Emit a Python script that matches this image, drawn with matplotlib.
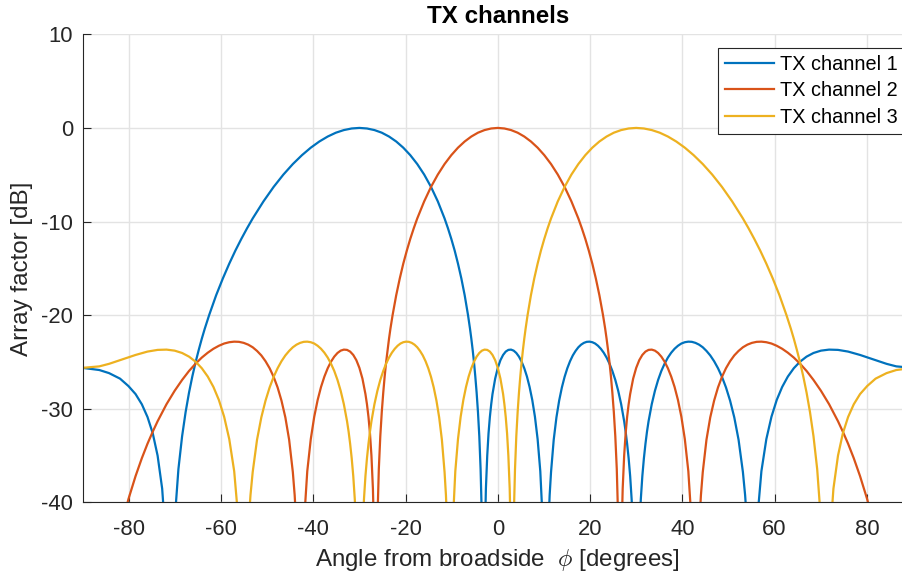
import matplotlib
matplotlib.use("Agg")
import matplotlib.pyplot as plt

# ---------------- data (angle [deg], array factor [dB]) ----------------
# values below -40 dB are outside the visible range (nulls), they are clipped by the axes
tx1_points = [
    (-90.00, -25.63), (-86.38, -25.86), (-84.27, -26.19), (-81.89, -26.78), (-80.07, -27.57),
    (-78.52, -28.43), (-77.16, -29.52), (-75.93, -30.88), (-74.79, -32.63), (-73.74, -35.01),
    (-72.75, -38.54), (-71.81, -45.20), (-70.98, -60.0), (-70.05, -42.00), (-69.23, -36.44),
    (-68.43, -32.93), (-67.67, -30.35), (-66.93, -28.27), (-66.21, -26.53), (-65.51, -25.03),
    (-64.82, -23.70), (-64.16, -22.51), (-63.51, -21.43), (-62.56, -19.98), (-61.05, -17.87),
    (-59.60, -16.08), (-58.21, -14.50), (-56.88, -13.10), (-55.59, -11.85), (-54.34, -10.71),
    (-53.13, -9.67), (-50.80, -7.85), (-48.59, -6.30), (-46.47, -4.98), (-44.43, -3.86),
    (-42.45, -2.91), (-40.54, -2.11), (-38.68, -1.45), (-36.87, -0.92), (-35.10, -0.51),
    (-33.37, -0.23), (-31.67, -0.06), (-30.00, 0.00),
    (-28.36, -0.06), (-26.74, -0.23), (-25.15, -0.51), (-23.58, -0.92), (-22.02, -1.45),
    (-20.49, -2.11), (-18.97, -2.91), (-17.46, -3.86), (-15.96, -4.98), (-14.48, -6.30),
    (-13.00, -7.85), (-11.54, -9.67), (-10.81, -10.71), (-10.08, -11.85), (-9.35, -13.10),
    (-8.63, -14.50), (-7.90, -16.08), (-7.18, -17.87), (-6.46, -19.98), (-6.03, -21.43),
    (-5.74, -22.51), (-5.45, -23.70), (-5.16, -25.03), (-4.88, -26.53), (-4.59, -28.27),
    (-4.30, -30.35), (-4.01, -32.93), (-3.73, -36.44), (-3.44, -42.00), (-3.12, -60.0),
    (-2.87, -45.20), (-2.58, -38.54), (-2.29, -35.01), (-2.01, -32.63), (-1.72, -30.88),
    (-1.43, -29.52), (-1.15, -28.43), (-0.57, -26.78), (0.00, -25.63), (0.57, -24.81),
    (1.15, -24.25), (1.72, -23.89), (2.29, -23.71), (2.87, -23.68), (3.44, -23.79),
    (4.01, -24.04), (4.59, -24.43), (5.16, -24.97), (5.74, -25.67), (6.32, -26.56),
    (6.89, -27.67), (7.47, -29.06), (8.05, -30.85), (8.63, -33.24), (9.21, -36.67),
    (9.79, -42.63), (10.08, -48.59), (10.41, -60.0), (10.66, -48.91), (10.95, -42.75),
    (11.24, -39.23), (11.54, -36.76), (12.12, -33.31), (12.71, -30.92), (13.30, -29.13),
    (13.89, -27.72), (14.48, -26.59), (15.07, -25.67), (15.66, -24.92), (16.26, -24.30),
    (16.86, -23.82), (17.46, -23.43), (18.06, -23.15), (18.66, -22.96), (19.27, -22.85),
    (19.88, -22.83), (20.49, -22.89), (21.10, -23.03), (21.72, -23.27), (22.33, -23.59),
    (22.96, -24.01), (23.58, -24.53), (24.21, -25.18), (24.83, -25.96), (25.47, -26.92),
    (26.10, -28.08), (26.74, -29.51), (27.39, -31.33), (27.71, -32.44), (28.03, -33.73),
    (28.36, -35.28), (28.69, -37.19), (29.01, -39.66), (29.34, -43.17), (30.00, -60.0),
    (30.66, -43.17), (31.00, -39.66), (31.33, -37.19), (31.67, -35.28), (32.01, -33.73),
    (32.34, -32.44), (32.68, -31.33), (33.37, -29.51), (34.06, -28.08), (34.75, -26.92),
    (35.45, -25.96), (36.16, -25.18), (36.87, -24.53), (37.59, -24.01), (38.32, -23.59),
    (39.05, -23.27), (39.79, -23.03), (40.54, -22.89), (41.30, -22.83), (42.07, -22.85),
    (42.84, -22.96), (43.63, -23.15), (44.43, -23.43), (45.23, -23.82), (46.05, -24.30),
    (46.89, -24.92), (47.73, -25.67), (48.59, -26.59), (49.46, -27.72), (50.35, -29.13),
    (51.26, -30.92), (52.19, -33.31), (53.13, -36.76), (53.61, -39.23), (54.10, -42.75),
    (54.59, -48.91), (55.01, -60.0), (55.59, -48.59), (56.10, -42.63), (57.14, -36.67),
    (58.21, -33.24), (59.32, -30.85), (60.46, -29.06), (61.64, -27.67), (62.87, -26.56),
    (64.16, -25.67), (65.51, -24.97), (66.93, -24.43), (68.43, -24.04), (70.05, -23.79),
    (71.81, -23.68), (73.74, -23.71), (75.93, -23.89), (78.52, -24.25), (81.89, -24.81),
    (84.27, -25.20), (86.38, -25.47), (90.00, -25.63),
]

tx2_points = [
    (-90.00, -60.0), (-81.89, -43.17), (-80.07, -39.66), (-78.52, -37.19), (-77.16, -35.28),
    (-75.93, -33.73), (-74.79, -32.44), (-73.74, -31.33), (-71.81, -29.51), (-70.05, -28.08),
    (-68.43, -26.92), (-66.93, -25.96), (-65.51, -25.18), (-64.16, -24.53), (-62.87, -24.01),
    (-61.64, -23.59), (-60.46, -23.27), (-59.32, -23.03), (-58.21, -22.89), (-57.14, -22.83),
    (-56.10, -22.85), (-55.08, -22.96), (-54.10, -23.15), (-53.13, -23.43), (-52.19, -23.82),
    (-51.26, -24.30), (-50.35, -24.92), (-49.46, -25.67), (-48.59, -26.59), (-47.73, -27.72),
    (-46.89, -29.13), (-46.05, -30.92), (-45.23, -33.31), (-44.43, -36.76), (-44.03, -39.23),
    (-43.63, -42.75), (-43.23, -48.91), (-42.90, -60.0), (-42.45, -48.59), (-42.07, -42.63),
    (-41.30, -36.67), (-40.54, -33.24), (-39.79, -30.85), (-39.05, -29.06), (-38.32, -27.67),
    (-37.59, -26.56), (-36.87, -25.67), (-36.16, -24.97), (-35.45, -24.43), (-34.75, -24.04),
    (-34.06, -23.79), (-33.37, -23.68), (-32.68, -23.71), (-32.01, -23.89), (-31.33, -24.25),
    (-30.66, -24.81), (-30.00, -25.63), (-29.34, -26.78), (-28.69, -28.43), (-28.36, -29.52),
    (-28.03, -30.88), (-27.71, -32.63), (-27.39, -35.01), (-27.07, -38.54), (-26.74, -45.20),
    (-26.46, -60.0), (-26.10, -42.00), (-25.79, -36.44), (-25.47, -32.93), (-25.15, -30.35),
    (-24.83, -28.27), (-24.52, -26.53), (-24.21, -25.03), (-23.89, -23.70), (-23.58, -22.51),
    (-23.27, -21.43), (-22.80, -19.98), (-22.02, -17.87), (-21.25, -16.08), (-20.49, -14.50),
    (-19.72, -13.10), (-18.97, -11.85), (-18.21, -10.71), (-17.46, -9.67), (-15.96, -7.85),
    (-14.48, -6.30), (-13.00, -4.98), (-11.54, -3.86), (-10.08, -2.91), (-8.63, -2.11),
    (-7.18, -1.45), (-5.74, -0.92), (-4.30, -0.51), (-2.87, -0.23), (-1.43, -0.06),
    (0.00, 0.00),
    (1.43, -0.06), (2.87, -0.23), (4.30, -0.51), (5.74, -0.92), (7.18, -1.45),
    (8.63, -2.11), (10.08, -2.91), (11.54, -3.86), (13.00, -4.98), (14.48, -6.30),
    (15.96, -7.85), (17.46, -9.67), (18.21, -10.71), (18.97, -11.85), (19.72, -13.10),
    (20.49, -14.50), (21.25, -16.08), (22.02, -17.87), (22.80, -19.98), (23.27, -21.43),
    (23.58, -22.51), (23.89, -23.70), (24.21, -25.03), (24.52, -26.53), (24.83, -28.27),
    (25.15, -30.35), (25.47, -32.93), (25.79, -36.44), (26.10, -42.00), (26.46, -60.0),
    (26.74, -45.20), (27.07, -38.54), (27.39, -35.01), (27.71, -32.63), (28.03, -30.88),
    (28.36, -29.52), (28.69, -28.43), (29.34, -26.78), (30.00, -25.63), (30.66, -24.81),
    (31.33, -24.25), (32.01, -23.89), (32.68, -23.71), (33.37, -23.68), (34.06, -23.79),
    (34.75, -24.04), (35.45, -24.43), (36.16, -24.97), (36.87, -25.67), (37.59, -26.56),
    (38.32, -27.67), (39.05, -29.06), (39.79, -30.85), (40.54, -33.24), (41.30, -36.67),
    (42.07, -42.63), (42.45, -48.59), (42.90, -60.0), (43.23, -48.91), (43.63, -42.75),
    (44.03, -39.23), (44.43, -36.76), (45.23, -33.31), (46.05, -30.92), (46.89, -29.13),
    (47.73, -27.72), (48.59, -26.59), (49.46, -25.67), (50.35, -24.92), (51.26, -24.30),
    (52.19, -23.82), (53.13, -23.43), (54.10, -23.15), (55.08, -22.96), (56.10, -22.85),
    (57.14, -22.83), (58.21, -22.89), (59.32, -23.03), (60.46, -23.27), (61.64, -23.59),
    (62.87, -24.01), (64.16, -24.53), (65.51, -25.18), (66.93, -25.96), (68.43, -26.92),
    (70.05, -28.08), (71.81, -29.51), (73.74, -31.33), (74.79, -32.44), (75.93, -33.73),
    (77.16, -35.28), (78.52, -37.19), (80.07, -39.66), (81.89, -43.17), (90.00, -60.0),
]

tx3_points = [
    (-90.00, -25.63), (-86.38, -25.47), (-84.27, -25.20), (-81.89, -24.81), (-78.52, -24.25),
    (-75.93, -23.89), (-73.74, -23.71), (-71.81, -23.68), (-70.05, -23.79), (-68.43, -24.04),
    (-66.93, -24.43), (-65.51, -24.97), (-64.16, -25.67), (-62.87, -26.56), (-61.64, -27.67),
    (-60.46, -29.06), (-59.32, -30.85), (-58.21, -33.24), (-57.14, -36.67), (-56.10, -42.63),
    (-55.59, -48.59), (-55.01, -60.0), (-54.59, -48.91), (-54.10, -42.75), (-53.61, -39.23),
    (-53.13, -36.76), (-52.19, -33.31), (-51.26, -30.92), (-50.35, -29.13), (-49.46, -27.72),
    (-48.59, -26.59), (-47.73, -25.67), (-46.89, -24.92), (-46.05, -24.30), (-45.23, -23.82),
    (-44.43, -23.43), (-43.63, -23.15), (-42.84, -22.96), (-42.07, -22.85), (-41.30, -22.83),
    (-40.54, -22.89), (-39.79, -23.03), (-39.05, -23.27), (-38.32, -23.59), (-37.59, -24.01),
    (-36.87, -24.53), (-36.16, -25.18), (-35.45, -25.96), (-34.75, -26.92), (-34.06, -28.08),
    (-33.37, -29.51), (-32.68, -31.33), (-32.34, -32.44), (-32.01, -33.73), (-31.67, -35.28),
    (-31.33, -37.19), (-31.00, -39.66), (-30.66, -43.17),
    (-30.00, -60.0), (-29.34, -43.17), (-29.01, -39.66), (-28.69, -37.19), (-28.36, -35.28),
    (-28.03, -33.73), (-27.71, -32.44), (-27.39, -31.33), (-26.74, -29.51), (-26.10, -28.08),
    (-25.47, -26.92), (-24.83, -25.96), (-24.21, -25.18), (-23.58, -24.53), (-22.96, -24.01),
    (-22.33, -23.59), (-21.72, -23.27), (-21.10, -23.03), (-20.49, -22.89), (-19.88, -22.83),
    (-19.27, -22.85), (-18.66, -22.96), (-18.06, -23.15), (-17.46, -23.43), (-16.86, -23.82),
    (-16.26, -24.30), (-15.66, -24.92), (-15.07, -25.67), (-14.48, -26.59), (-13.89, -27.72),
    (-13.30, -29.13), (-12.71, -30.92), (-12.12, -33.31), (-11.54, -36.76), (-11.24, -39.23),
    (-10.95, -42.75), (-10.66, -48.91), (-10.41, -60.0), (-10.08, -48.59), (-9.79, -42.63),
    (-9.21, -36.67), (-8.63, -33.24), (-8.05, -30.85), (-7.47, -29.06), (-6.89, -27.67),
    (-6.32, -26.56), (-5.74, -25.67), (-5.16, -24.97), (-4.59, -24.43), (-4.01, -24.04),
    (-3.44, -23.79), (-2.87, -23.68), (-2.29, -23.71), (-1.72, -23.89), (-1.15, -24.25),
    (-0.57, -24.81), (0.00, -25.63), (0.57, -26.78), (1.15, -28.43), (1.43, -29.52),
    (1.72, -30.88), (2.01, -32.63), (2.29, -35.01), (2.58, -38.54), (2.87, -45.20),
    (3.12, -60.0), (3.44, -42.00), (3.73, -36.44), (4.01, -32.93), (4.30, -30.35),
    (4.59, -28.27), (4.88, -26.53), (5.16, -25.03), (5.45, -23.70), (5.74, -22.51),
    (6.03, -21.43), (6.46, -19.98), (7.18, -17.87), (7.90, -16.08), (8.63, -14.50),
    (9.35, -13.10), (10.08, -11.85), (10.81, -10.71), (11.54, -9.67), (13.00, -7.85),
    (14.48, -6.30), (15.96, -4.98), (17.46, -3.86), (18.97, -2.91), (20.49, -2.11),
    (22.02, -1.45), (23.58, -0.92), (25.15, -0.51), (26.74, -0.23), (28.36, -0.06),
    (30.00, 0.00), (31.67, -0.06), (33.37, -0.23), (35.10, -0.51), (36.87, -0.92),
    (38.68, -1.45), (40.54, -2.11), (42.45, -2.91), (44.43, -3.86), (46.47, -4.98),
    (48.59, -6.30), (50.80, -7.85), (53.13, -9.67), (54.34, -10.71), (55.59, -11.85),
    (56.88, -13.10), (58.21, -14.50), (59.60, -16.08), (61.05, -17.87), (62.56, -19.98),
    (63.51, -21.43), (64.16, -22.51), (64.82, -23.70), (65.51, -25.03), (66.21, -26.53),
    (66.93, -28.27), (67.67, -30.35), (68.43, -32.93), (69.23, -36.44), (70.05, -42.00),
    (70.98, -60.0), (71.81, -45.20), (72.75, -38.54), (73.74, -35.01), (74.79, -32.63),
    (75.93, -30.88), (77.16, -29.52), (78.52, -28.43), (80.07, -27.57), (81.89, -26.78),
    (84.27, -26.19), (86.38, -25.86), (90.00, -25.63),
]

series_labels = ["TX channel 1", "TX channel 2", "TX channel 3"]
series_colors = ["#0072BD", "#D95319", "#EDB120"]
x_ticks = [-80, -60, -40, -20, 0, 20, 40, 60, 80]
y_ticks = [-40, -30, -20, -10, 0, 10]

# ---------------- figure ----------------
plt.rcParams["font.family"] = ["Liberation Sans", "DejaVu Sans"]
plt.rcParams["mathtext.fontset"] = "cm"
plt.rcParams["axes.unicode_minus"] = False

W, H = 903, 578
fig = plt.figure(figsize=(W / 100, H / 100), dpi=100)
left, right, top, bottom = 82.6, 913.0, 34.3, 502.4
ax = fig.add_axes([left / W, 1 - bottom / H, (right - left) / W, (bottom - top) / H])

for pts, lab, col in zip([tx1_points, tx2_points, tx3_points], series_labels, series_colors):
    xs = [p[0] for p in pts]
    ys = [p[1] for p in pts]
    ax.plot(xs, ys, color=col, lw=1.6, label=lab, solid_joinstyle="round")

ax.set_xlim(-90, 90)
ax.set_ylim(-40, 10)
ax.set_xticks(x_ticks)
ax.set_yticks(y_ticks)
ax.set_xticklabels([str(t) for t in x_ticks])
ax.set_yticklabels([str(t) for t in y_ticks])

ax.grid(True, color="#e3e3e3", lw=1.0)
ax.set_axisbelow(True)
for s in ["top", "right"]:
    ax.spines[s].set_visible(False)
for s in ["left", "bottom"]:
    ax.spines[s].set_color("#262626")
    ax.spines[s].set_linewidth(0.8)
ax.tick_params(direction="in", length=6, width=0.8, colors="#262626", labelsize=15.8)
ax.tick_params(axis="x", pad=12)
ax.tick_params(axis="y", pad=7)

ax.set_xlabel(r"Angle from broadside  $\phi$ [degrees]", fontsize=17.4, color="#262626", labelpad=5)
ax.set_ylabel("Array factor [dB]", fontsize=17.4, color="#262626", labelpad=6)
ax.set_title("TX channels", fontsize=17.4, fontweight="bold", pad=8)

leg = fig.legend(loc="upper left", bbox_to_anchor=(718.3 / W, 1 - 47.7 / H),
                 frameon=True, fancybox=False, fontsize=14.3, borderaxespad=0,
                 handlelength=2.45, handletextpad=0.3, labelspacing=0.38,
                 borderpad=0.35, framealpha=1)
leg.get_frame().set_edgecolor("#262626")
leg.get_frame().set_linewidth(0.8)

fig.savefig("out.png", dpi=100)
